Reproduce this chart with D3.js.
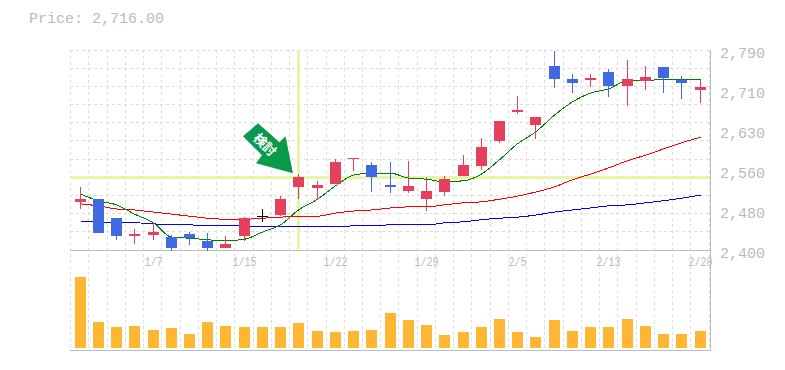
<!DOCTYPE html>
<html>
<head>
<meta charset="utf-8">
<script src="https://cdn.jsdelivr.net/npm/d3@7"></script>
<style>
html,body{margin:0;padding:0;background:#fff;}
svg{display:block;}
text{font-family:"Liberation Mono",monospace;fill:#bbb;}
</style>
</head>
<body>
<div id="chart"></div>
<script>
const priceText = "Price: 2,716.00";
const priceTicks = [2400, 2478, 2556, 2634, 2712, 2790];
const priceTickLabels = ["2,400", "2,480", "2,560", "2,630", "2,710", "2,790"];
const dateLabels = ["1/7", "1/15", "1/22", "1/29", "2/5", "2/13", "2/20"];
const dateLabelIndex = [4, 9, 14, 19, 24, 29, 34];
const highlightPrice = 2542;
const highlightIndex = 12;
const arrowText = "検討";

const opens = [2494,2499,2462,2427,2429,2425,2431,2418,2404,2427,2466,2468,2523,2521,2529,2577,2566,2527,2515,2499,2513,2544,2564,2613,2669,2644,2759,2733,2732,2747,2720,2730,2757,2732,2712];
const closes = [2499,2433,2427,2431,2435,2404,2423,2404,2412,2462,2466,2499,2542,2527,2572,2579,2542,2523,2525,2515,2538,2566,2601,2652,2673,2659,2733,2726,2735,2720,2733,2737,2735,2726,2718];
const highs = [2523,2499,2462,2441,2455,2429,2435,2433,2427,2464,2480,2505,2548,2535,2577,2579,2572,2572,2574,2542,2544,2585,2618,2652,2700,2659,2788,2743,2743,2753,2771,2759,2757,2739,2732];
const lows = [2480,2433,2420,2412,2420,2398,2410,2398,2404,2418,2455,2466,2499,2498,2529,2554,2513,2511,2511,2476,2505,2544,2556,2609,2665,2616,2716,2706,2718,2698,2681,2712,2706,2694,2687];
const ma5 = [2509,2496,2488,2470,2453,2425,2423,2420,2418,2421,2435,2449,2478,2499,2525,2546,2550,2550,2540,2538,2533,2535,2548,2576,2607,2630,2663,2689,2706,2714,2730,2730,2733,2732,2732];
const ma25 = [2490,2486,2480,2478,2474,2470,2466,2462,2460,2460,2462,2464,2466,2466,2472,2476,2478,2482,2484,2484,2488,2492,2494,2499,2505,2513,2523,2537,2548,2560,2574,2585,2597,2609,2620];
const ma75 = [2455,2455,2453,2453,2451,2449,2449,2447,2447,2447,2445,2445,2445,2445,2445,2447,2447,2449,2449,2449,2453,2455,2459,2462,2464,2468,2474,2478,2482,2486,2488,2492,2496,2501,2507];
const volumes = [71,26,21,22,18,20,14,26,22,21,21,21,25,17,16,17,18,35,28,23,13,16,21,29,16,11,28,17,21,21,29,22,14,14,17];

const W = 785, H = 370;
const n = closes.length;
const slot = d3.scaleLinear().domain([0, n]).range([70.7, 709]);
const left = i => Math.floor(slot(i + 0.5) - 4.75);
const cx = i => left(i) + 5.5;
const y = d3.scaleLinear().domain([2400, 2790]).range([250, 50]);
const yVol = d3.scaleLinear().domain([0, 80]).range([348, 268]);

const svg = d3.select("#chart").append("svg").attr("width", W).attr("height", H);

// grid
const gridG = svg.append("g").attr("shape-rendering", "crispEdges")
  .attr("stroke", "#ddd").attr("stroke-dasharray", "3,3");
gridG.selectAll("line.v").data(d3.range(n + 1)).join("line")
  .attr("class", "v").attr("x1", d => slot(d)).attr("x2", d => slot(d)).attr("y1", 50).attr("y2", 350);
gridG.selectAll("line.h").data(d3.range(11)).join("line")
  .attr("class", "h").attr("x1", 70).attr("x2", 710)
  .attr("y1", d => 50 + d * 200 / 11).attr("y2", d => 50 + d * 200 / 11);

// highlight
const hl = svg.append("g").attr("shape-rendering", "crispEdges").attr("stroke", "#e6f5a8").attr("stroke-width", 3);
hl.append("line").attr("x1", cx(highlightIndex)).attr("x2", cx(highlightIndex)).attr("y1", 50).attr("y2", 249);
hl.append("line").attr("x1", 70).attr("x2", 710).attr("y1", Math.floor(y(highlightPrice)) + 0.5).attr("y2", Math.floor(y(highlightPrice)) + 0.5);

// frame
const frame = svg.append("g").attr("shape-rendering", "crispEdges").attr("stroke", "#bbb");
frame.append("line").attr("x1", 70).attr("x2", 711).attr("y1", 250).attr("y2", 250);
frame.append("line").attr("x1", 70).attr("x2", 711).attr("y1", 350).attr("y2", 350);
frame.append("line").attr("x1", 710).attr("x2", 710).attr("y1", 50).attr("y2", 350);

// volume
svg.append("g").attr("shape-rendering", "crispEdges").selectAll("rect").data(volumes).join("rect")
  .attr("x", (d, i) => left(i)).attr("width", 11)
  .attr("y", d => yVol(d)).attr("height", d => yVol(0) - yVol(d)).attr("fill", "#ffb733");

// moving averages sit under the candles
const lineGen = d3.line().x((d, i) => cx(i)).y(d => y(d)).curve(d3.curveMonotoneX);
[[ma75, "#0000ff", 1], [ma25, "#ff0000", 1], [ma5, "#008000", 1]].forEach(([s, c, w]) => {
  svg.append("path").attr("d", lineGen(s)).attr("fill", "none").attr("stroke", c)
    .attr("stroke-width", w).attr("shape-rendering", "crispEdges");
});

// candles
const colour = i => closes[i] > opens[i] ? "#e5405e" : closes[i] < opens[i] ? "#4169e1" : "#000";
const candles = svg.append("g").attr("shape-rendering", "crispEdges").selectAll("g").data(d3.range(n)).join("g");
candles.append("line")
  .attr("x1", cx).attr("x2", cx)
  .attr("y1", i => y(highs[i])).attr("y2", i => y(lows[i]))
  .attr("stroke", colour);
candles.append("rect")
  .attr("x", left).attr("width", 11)
  .attr("y", i => y(Math.max(opens[i], closes[i])))
  .attr("height", i => Math.max(1, Math.abs(y(opens[i]) - y(closes[i]))))
  .attr("fill", colour);

// arrow annotation, placed relative to the highlighted candle
const ax = cx(highlightIndex), ay = y(highlightPrice);
const arrow = svg.append("g").attr("transform", `translate(${ax},${ay})`);
arrow.append("path").attr("fill", "#0a9a4c")
  .attr("d", "M-5.5,-4 L-13,-41 L-19,-35 L-40.5,-54 L-55.5,-41 L-36.5,-22 L-42.5,-14 Z");
arrow.append("text").attr("transform", "translate(-33,-33) rotate(45)")
  .attr("text-anchor", "middle").attr("dominant-baseline", "central")
  .style("font-family", "'Noto Sans CJK JP'").style("font-size", "13px").style("font-weight", "700")
  .style("fill", "#fff").text(arrowText);

// labels
svg.append("text").attr("x", 29).attr("y", 23).style("font-size", "15px").text(priceText);
svg.selectAll("text.py").data(priceTicks).join("text").attr("class", "py")
  .attr("x", 720).attr("y", d => y(d) + 8).style("font-size", "15px").text((d, i) => priceTickLabels[i]);
svg.selectAll("text.dl").data(dateLabels).join("text").attr("class", "dl")
  .attr("x", (d, i) => cx(dateLabelIndex[i])).attr("y", 266).attr("text-anchor", "middle")
  .attr("textLength", d => d.length * 6).attr("lengthAdjust", "spacingAndGlyphs")
  .style("font-size", "12px").text(d => d);
</script>
</body>
</html>
